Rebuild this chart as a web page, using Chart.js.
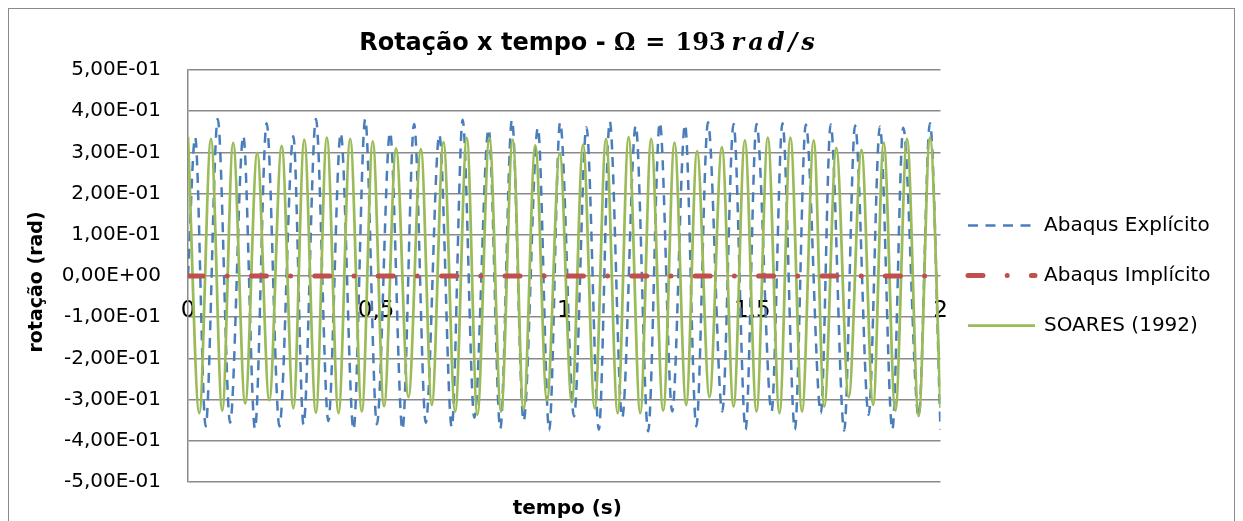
<!DOCTYPE html>
<html lang="pt">
<head>
<meta charset="utf-8">
<title>Rotação x tempo</title>
<script src="https://cdn.jsdelivr.net/npm/chart.js@4.4.1/dist/chart.umd.min.js"></script>
<style>
  html, body { margin: 0; padding: 0; background: #ffffff; overflow: hidden; }
  canvas { display: block; }
</style>
</head>
<body>
<canvas id="chart" width="1243" height="521"></canvas>
<script>
// Abaqus Explícito: time (s) of each successive crest / trough and the rotation (rad) there
const explicitTime = [0, 0.019, 0.047, 0.079, 0.112, 0.147, 0.178, 0.209, 0.243, 0.280, 0.307,
  0.340, 0.373, 0.406, 0.440, 0.471, 0.502, 0.537, 0.570, 0.601, 0.632, 0.668, 0.701, 0.730,
  0.761, 0.799, 0.830, 0.861, 0.892, 0.930, 0.960, 0.989, 1.026, 1.059, 1.092, 1.121, 1.154,
  1.190, 1.223, 1.254, 1.287, 1.321, 1.351, 1.382, 1.420, 1.450, 1.482, 1.511, 1.551, 1.580,
  1.613, 1.642, 1.682, 1.708, 1.744, 1.773, 1.809, 1.839, 1.872, 1.901, 1.942, 1.972, 2.000];
const explicitRotation = [0, 0.337, -0.365, 0.381, -0.356, 0.340, -0.371, 0.371, -0.365, 0.339,
  -0.361, 0.381, -0.352, 0.347, -0.373, 0.381, -0.360, 0.349, -0.373, 0.369, -0.356, 0.343,
  -0.367, 0.379, -0.344, 0.357, -0.371, 0.379, -0.352, 0.360, -0.375, 0.373, -0.341, 0.361,
  -0.373, 0.375, -0.344, 0.365, -0.377, 0.373, -0.329, 0.368, -0.365, 0.373, -0.329, 0.369,
  -0.373, 0.369, -0.329, 0.371, -0.373, 0.368, -0.333, 0.368, -0.375, 0.365, -0.337, 0.363,
  -0.373, 0.360, -0.341, 0.371, -0.373];

// Abaqus Implícito: stays on zero for the whole run
const implicitTime = [0, 0.25, 0.5, 0.75, 1, 1.25, 1.5, 1.75, 2];
const implicitRotation = [0, 0, 0, 0, 0, 0, 0, 0, 0];

// SOARES (1992): crests and troughs of the reference solution
const soaresTime = [0, 0.030, 0.061, 0.091, 0.120, 0.152, 0.184, 0.216, 0.249, 0.280, 0.309,
  0.340, 0.369, 0.400, 0.431, 0.462, 0.491, 0.521, 0.553, 0.586, 0.619, 0.648, 0.679, 0.710,
  0.741, 0.769, 0.801, 0.832, 0.863, 0.892, 0.923, 0.954, 0.988, 1.020, 1.050, 1.081, 1.111,
  1.142, 1.171, 1.202, 1.231, 1.263, 1.293, 1.324, 1.353, 1.386, 1.419, 1.450, 1.480, 1.511,
  1.541, 1.572, 1.601, 1.632, 1.663, 1.691, 1.723, 1.756, 1.790, 1.821, 1.849, 1.880, 1.911,
  1.942, 1.972, 2.000];
const soaresRotation = [0.337, -0.333, 0.333, -0.327, 0.323, -0.310, 0.299, -0.302, 0.316,
  -0.321, 0.331, -0.332, 0.336, -0.333, 0.333, -0.329, 0.327, -0.316, 0.310, -0.294, 0.308,
  -0.313, 0.325, -0.329, 0.335, -0.337, 0.335, -0.329, 0.331, -0.324, 0.317, -0.302, 0.298,
  -0.306, 0.319, -0.321, 0.333, -0.333, 0.337, -0.333, 0.333, -0.327, 0.324, -0.313, 0.303,
  -0.294, 0.313, -0.317, 0.329, -0.329, 0.336, -0.333, 0.336, -0.329, 0.329, -0.317, 0.311,
  -0.294, 0.306, -0.313, 0.324, -0.327, 0.333, -0.340, 0.336, -0.320];

const seriesNames = ['Abaqus Explícito', 'Abaqus Implícito', 'SOARES (1992)'];

const xTickValues = [0, 0.5, 1, 1.5, 2];
const xTickLabels = ['0', '0,5', '1', '1,5', '2'];
const yTickValues = [-0.5, -0.4, -0.3, -0.2, -0.1, 0, 0.1, 0.2, 0.3, 0.4, 0.5];
const yTickLabels = ['-5,00E-01', '-4,00E-01', '-3,00E-01', '-2,00E-01', '-1,00E-01', '0,00E+00',
  '1,00E-01', '2,00E-01', '3,00E-01', '4,00E-01', '5,00E-01'];

const GRID = '#8a8a8a';
const SANS = '"DejaVu Sans", "Liberation Sans", sans-serif';
const SERIF = '"DejaVu Serif", "Liberation Serif", serif';

function pairs(xs, ys) {
  return xs.map((x, i) => ({ x: x, y: ys[i] }));
}

// Title (mixed text / math fonts), axis titles, legend and the outer frame
const decorations = {
  id: 'decorations',
  afterDraw(chart) {
    const ctx = chart.ctx;
    ctx.save();

    // outer frame
    ctx.strokeStyle = GRID;
    ctx.lineWidth = 1;
    ctx.strokeRect(8.5, 8.5, 1226, 540);

    // title
    const parts = [
      { text: 'Rotação x tempo - ', font: 'bold 24px ' + SANS, gap: 0, spacing: 0 },
      { text: 'Ω', font: 'bold 24px ' + SERIF, gap: 0, spacing: 0 },
      { text: '=', font: 'bold 24px ' + SERIF, gap: 10, spacing: 0 },
      { text: '193', font: 'bold 24px ' + SERIF, gap: 10, spacing: 0 },
      { text: 'rad/s', font: 'italic bold 24px ' + SERIF, gap: 6, spacing: 4 }
    ];
    let total = 0;
    parts.forEach(p => {
      ctx.font = p.font;
      ctx.letterSpacing = p.spacing + 'px';
      p.w = ctx.measureText(p.text).width;
      total += p.gap + p.w;
    });
    let cx = 589 - total / 2;
    ctx.fillStyle = '#000000';
    ctx.textAlign = 'left';
    ctx.textBaseline = 'alphabetic';
    parts.forEach(p => {
      cx += p.gap;
      ctx.font = p.font;
      ctx.letterSpacing = p.spacing + 'px';
      ctx.fillText(p.text, cx, 50);
      cx += p.w;
    });
    ctx.letterSpacing = '0px';

    // axis titles
    const area = chart.chartArea;
    ctx.font = 'bold 20px ' + SANS;
    ctx.textAlign = 'center';
    ctx.textBaseline = 'middle';
    ctx.fillText('tempo (s)', (area.left + area.right) / 2 + 3, 509);

    ctx.save();
    ctx.translate(37.5, (area.top + area.bottom) / 2 + 6);
    ctx.rotate(-Math.PI / 2);
    ctx.font = 'bold 19px ' + SANS;
    ctx.fillText('rotação (rad)', 0, 0);
    ctx.restore();

    // legend
    chart.data.datasets.forEach((ds, i) => {
      const y = 225.5 + i * 50;
      ctx.save();
      ctx.strokeStyle = ds.borderColor;
      ctx.lineWidth = ds.borderWidth;
      ctx.lineCap = ds.borderCapStyle || 'butt';
      ctx.setLineDash(ds.borderDash || []);
      ctx.beginPath();
      ctx.moveTo(968, y);
      ctx.lineTo(1035, y);
      ctx.stroke();
      ctx.restore();
      ctx.font = '20px ' + SANS;
      ctx.textAlign = 'left';
      ctx.textBaseline = 'middle';
      ctx.fillStyle = '#000000';
      ctx.fillText(ds.label, 1044, y);
    });

    ctx.restore();
  }
};

new Chart(document.getElementById('chart'), {
  type: 'line',
  data: {
    datasets: [
      {
        label: seriesNames[0],
        data: pairs(explicitTime, explicitRotation),
        borderColor: '#4a7ebb',
        borderWidth: 2.5,
        borderDash: [10, 7.5],
        cubicInterpolationMode: 'monotone',
        order: 3
      },
      {
        label: seriesNames[1],
        data: pairs(implicitTime, implicitRotation),
        borderColor: '#c0504d',
        borderWidth: 5,
        borderDash: [15, 24.2, 0, 24.2],
        borderCapStyle: 'round',
        order: 1
      },
      {
        label: seriesNames[2],
        data: pairs(soaresTime, soaresRotation),
        borderColor: '#9bbb59',
        borderWidth: 2.75,
        cubicInterpolationMode: 'monotone',
        order: 2
      }
    ]
  },
  options: {
    responsive: false,
    animation: false,
    devicePixelRatio: 1,
    events: [],
    elements: { point: { radius: 0, hoverRadius: 0 } },
    layout: { padding: { left: 0, top: 70, right: 302.5, bottom: 31 } },
    plugins: {
      legend: { display: false },
      title: { display: false },
      tooltip: { enabled: false }
    },
    scales: {
      x: {
        type: 'linear',
        min: 0,
        max: 2,
        position: { y: 0 },
        afterBuildTicks: axis => { axis.ticks = xTickValues.map(v => ({ value: v })); },
        ticks: {
          callback: (value, index) => xTickLabels[index],
          autoSkip: false,
          maxRotation: 0,
          padding: 21,
          color: '#000000',
          font: { family: SANS, size: 23 }
        },
        grid: { display: false, drawTicks: false },
        border: { display: false }
      },
      y: {
        type: 'linear',
        min: -0.5,
        max: 0.5,
        position: 'left',
        afterFit: axis => { axis.width = 188; },
        afterBuildTicks: axis => { axis.ticks = yTickValues.map(v => ({ value: v })); },
        ticks: {
          callback: (value, index) => yTickLabels[index],
          padding: 27,
          color: '#000000',
          font: { family: SANS, size: 20 }
        },
        grid: { color: GRID, lineWidth: 1.5, drawTicks: false },
        border: { display: true, color: GRID, width: 1.5 }
      }
    }
  },
  plugins: [decorations]
});
</script>
</body>
</html>
